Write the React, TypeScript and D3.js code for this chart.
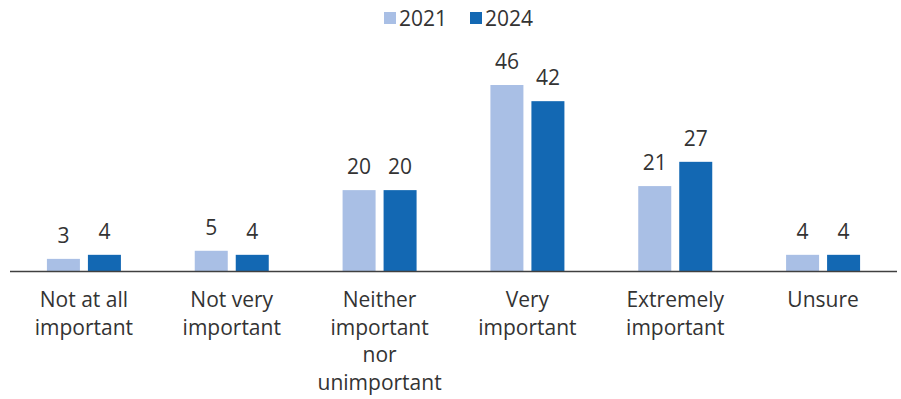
import * as d3 from "d3";
import React, { useEffect, useRef } from "react";

const categories = [
  ["Not at all", "important"],
  ["Not very", "important"],
  ["Neither", "important", "nor", "unimportant"],
  ["Very", "important"],
  ["Extremely", "important"],
  ["Unsure"],
];
const seriesNames = ["2021", "2024"];
const values2021 = [3, 5, 20, 46, 21, 4];
const values2024 = [4, 4, 20, 42, 27, 4];
const colors = ["#a9bfe5", "#1368b3"];

const width = 901;
const height = 399;
const font = "'Open Sans', sans-serif";
const textColor = "#333333";

export default function App() {
  const ref = useRef<SVGSVGElement | null>(null);

  useEffect(() => {
    const svg = d3.select(ref.current);
    svg.selectAll("*").remove();

    const margin = { left: 10, right: 4, baseline: 271 };
    const x0 = d3
      .scaleBand()
      .domain(d3.range(categories.length))
      .range([margin.left, width - margin.right]);
    const x1 = d3
      .scaleBand()
      .domain(seriesNames)
      .range([0, 74])
      .paddingInner(0.195);
    const y = d3.scaleLinear().domain([0, 46]).range([margin.baseline, 85]);

    const data = categories.map((c, i) => ({
      i,
      vals: [values2021[i], values2024[i]],
    }));

    const g = svg
      .selectAll("g.grp")
      .data(data)
      .join("g")
      .attr("class", "grp")
      .attr(
        "transform",
        (d) => `translate(${x0(d.i)! + x0.bandwidth() / 2 - 37},0)`
      );

    g.selectAll("rect")
      .data((d) => d.vals.map((v, k) => ({ v, k })))
      .join("rect")
      .attr("x", (d) => x1(seriesNames[d.k])!)
      .attr("width", x1.bandwidth())
      .attr("y", (d) => y(d.v))
      .attr("height", (d) => y(0) - y(d.v))
      .attr("fill", (d) => colors[d.k]);

    g.selectAll("text.val")
      .data((d) => d.vals.map((v, k) => ({ v, k })))
      .join("text")
      .attr("class", "val")
      .attr("x", (d) => x1(seriesNames[d.k])! + x1.bandwidth() / 2)
      .attr("y", (d) => y(d.v) - 16)
      .attr("text-anchor", "middle")
      .attr("font-family", font)
      .attr("font-size", 21)
      .attr("fill", textColor)
      .text((d) => d.v);

    // baseline
    svg
      .append("line")
      .attr("x1", margin.left)
      .attr("x2", width - margin.right)
      .attr("y1", y(0) + 0.5)
      .attr("y2", y(0) + 0.5)
      .attr("stroke", "#404040")
      .attr("stroke-width", 1.3);

    // category labels
    const lab = svg
      .selectAll("text.cat")
      .data(categories)
      .join("text")
      .attr("class", "cat")
      .attr("text-anchor", "middle")
      .attr("font-family", font)
      .attr("font-size", 21)
      .attr("fill", textColor);
    lab
      .selectAll("tspan")
      .data((d, i) => d.map((t) => ({ t, i })))
      .join("tspan")
      .attr("x", (d) => x0(d.i)! + x0.bandwidth() / 2)
      .attr("y", (d, j) => 307 + j * 27.5)
      .text((d) => d.t);

    // legend
    const legend = svg.append("g");
    const lx = [384, 470];
    seriesNames.forEach((s, k) => {
      legend
        .append("rect")
        .attr("x", lx[k])
        .attr("y", 12)
        .attr("width", 12)
        .attr("height", 12)
        .attr("fill", colors[k]);
      legend
        .append("text")
        .attr("x", lx[k] + 15)
        .attr("y", 26)
        .attr("font-family", font)
        .attr("font-size", 21)
        .attr("fill", textColor)
        .text(s);
    });
  }, []);

  return (
    <svg
      ref={ref}
      width={width}
      height={height}
      style={{ position: "absolute", left: 0, top: 0, background: "#fff" }}
    />
  );
}
